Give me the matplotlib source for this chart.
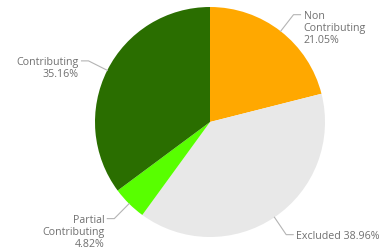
# Pie chart of contribution status


# Import libraries ............................................................
import numpy as np
import matplotlib.pyplot as plt


# Data ........................................................................
labels = ["Non\nContributing", "Excluded", "Partial\nContributing", "Contributing"]
values = [21.05, 38.96, 4.82, 35.16]
colors = ["#ffa800", "#e8e8e8", "#58ff00", "#2a6e00"]


# Plot ........................................................................
fig = plt.figure(figsize=(3.85, 2.5), dpi=100)
ax = fig.add_axes([0, 0, 1, 1])

# work in pixel units so the pie sits where it does in the reference
cx, cy, r = 210, 128, 115
wedges, _ = ax.pie(values, colors=colors, startangle=90, counterclock=False,
                   center=(cx, cy), radius=r, wedgeprops=dict(linewidth=0))
ax.set_xlim(0, 385)
ax.set_ylim(0, 250)
ax.set_aspect("equal")
ax.axis("off")

line_color = "#b4b4b4"
text_color = "#707070"

for w, lab, val in zip(wedges, labels, values):
    ang = np.deg2rad((w.theta1 + w.theta2) / 2)
    x0, y0 = cx + r * np.cos(ang), cy + r * np.sin(ang)
    x1, y1 = cx + (r + 21) * np.cos(ang), cy + (r + 21) * np.sin(ang)
    side = 1 if np.cos(ang) >= 0 else -1
    x2 = x1 + side * 7
    ax.plot([x0, x1, x2], [y0, y1, y1], color=line_color, lw=0.8)
    if lab == "Excluded":
        txt = f"{lab} {val:.2f}%"
    else:
        txt = f"{lab}\n{val:.2f}%"
    ax.text(x2 + side * 3, y1 + 3.5, txt, ha="left" if side > 0 else "right",
            va="top", multialignment="left" if side > 0 else "right",
            fontsize=7.7, color=text_color, linespacing=1.12,
            family=["Open Sans", "DejaVu Sans"])

plt.savefig("out.png", dpi=100)
